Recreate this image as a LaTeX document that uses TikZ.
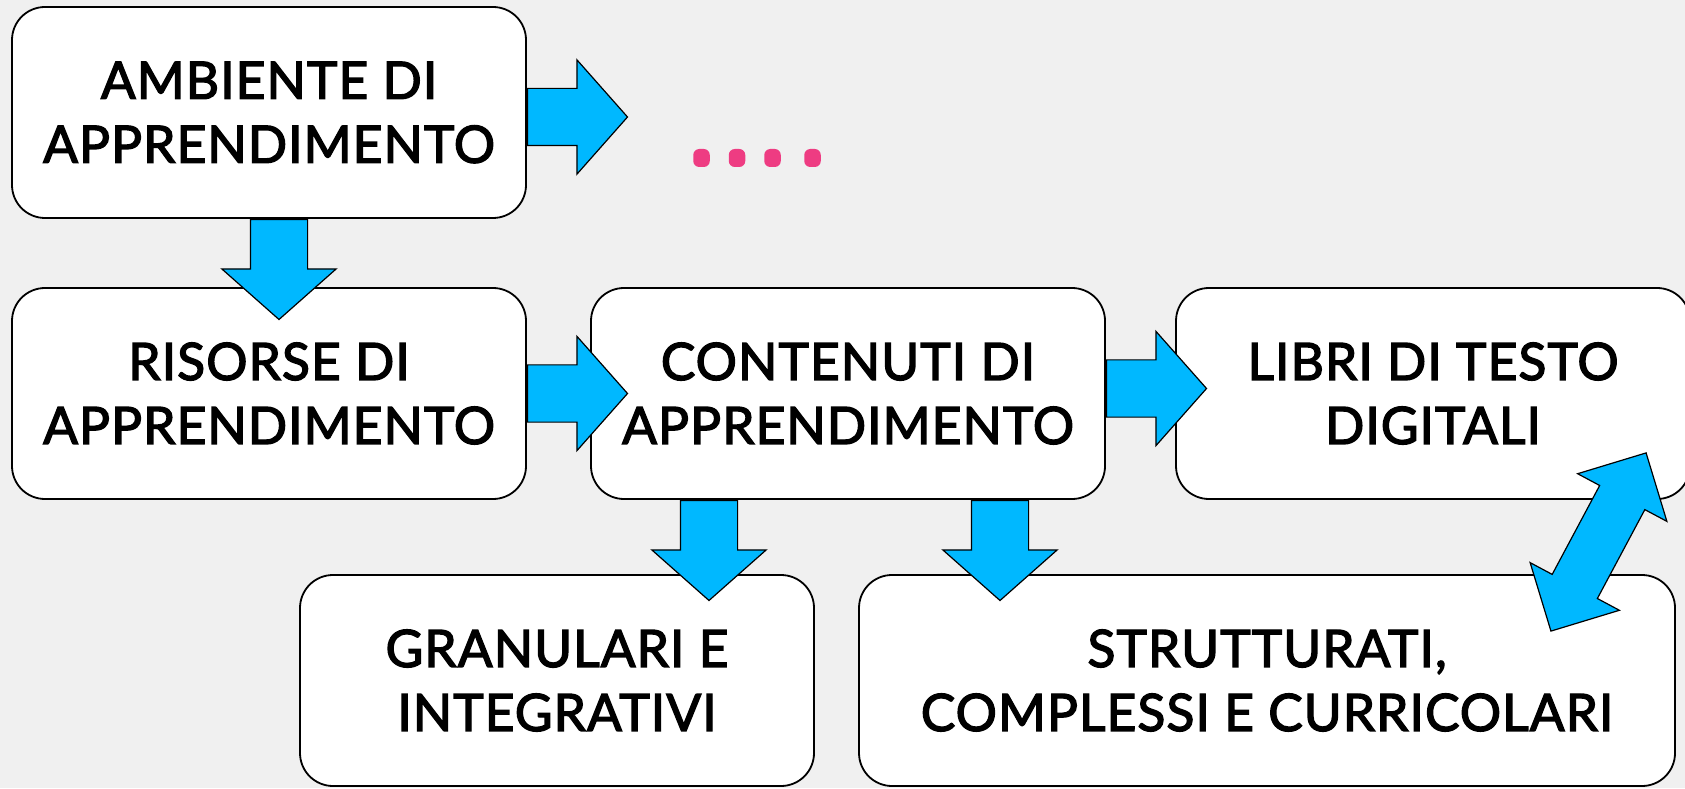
\documentclass[tikz,border=0pt]{standalone}
\usepackage{fontspec}
\setmainfont{Lato}[FakeBold=2.6,LetterSpace=2]
\usetikzlibrary{shapes.arrows}
\definecolor{bgray}{HTML}{F0F0F0}
\definecolor{ablue}{HTML}{00B8FF}
\definecolor{dpink}{HTML}{EE3C82}
\tikzset{
    box/.style={%Box format
        draw=black, line width=1.8pt, fill=white, rounded corners=33pt,
        minimum width=514pt, minimum height=211pt, inner sep=0pt,
        align=center, font=\fontsize{51.6}{64}\selectfont},
    barrow/.style={%Block arrow format
        single arrow, draw=black, line width=1.2pt, fill=ablue,
        inner xsep=0pt, inner ysep=28pt, minimum width=0pt,
        single arrow head extend=28.5pt, single arrow tip angle=97,
        minimum height=100pt, anchor=tail},
    dbarrow/.style={
        double arrow, draw=black, line width=1.2pt, fill=ablue,
        inner xsep=0pt, inner ysep=25pt, minimum width=0pt,
        double arrow head extend=25pt, double arrow tip angle=90,
        minimum height=202pt}
    }
\begin{document}
\begin{tikzpicture}[x=1pt,y=1pt]
\fill[bgray] (0,0) rectangle (1685,788);
\useasboundingbox (0,0) rectangle (1685,788);
\node[box] (amb) at (269,675.5) {AMBIENTE DI\\APPRENDIMENTO};
\node[box] (ris) at (269,394.5) {RISORSE DI\\APPRENDIMENTO};
\node[box] (con) at (848,394.5) {CONTENUTI DI\\APPRENDIMENTO};
\node[box] (lib) at (1433,394.5) {LIBRI DI TESTO\\DIGITALI};
\node[box] (gra) at (557,107.5) {GRANULARI E\\INTEGRATIVI};
\node[box,minimum width=816pt] (str) at (1267,107.5) {STRUTTURATI,\\COMPLESSI E CURRICOLARI};
\node[barrow] (a1) at ([yshift=-4.5pt]amb.east) {};
\node[barrow,rotate=-90] (a2) at ([xshift=10pt]amb.south) {};
\node[barrow] (a3) at (ris.east) {};
\node[barrow] (a4) at ([yshift=5pt]con.east) {};
\node[barrow,rotate=-90] (a5) at ([xshift=-139pt]con.south) {};
\node[barrow,rotate=-90] (a6) at ([xshift=152pt]con.south) {};
\node[dbarrow,rotate=61.9] (a7) at (1598.5,246) {};
\foreach \x in {701.5,737,772.5,812.5}
\fill[dpink,rounded corners=6pt] (\x-8.25,621) rectangle (\x+8.25,639);
\end{tikzpicture}
\end{document}
